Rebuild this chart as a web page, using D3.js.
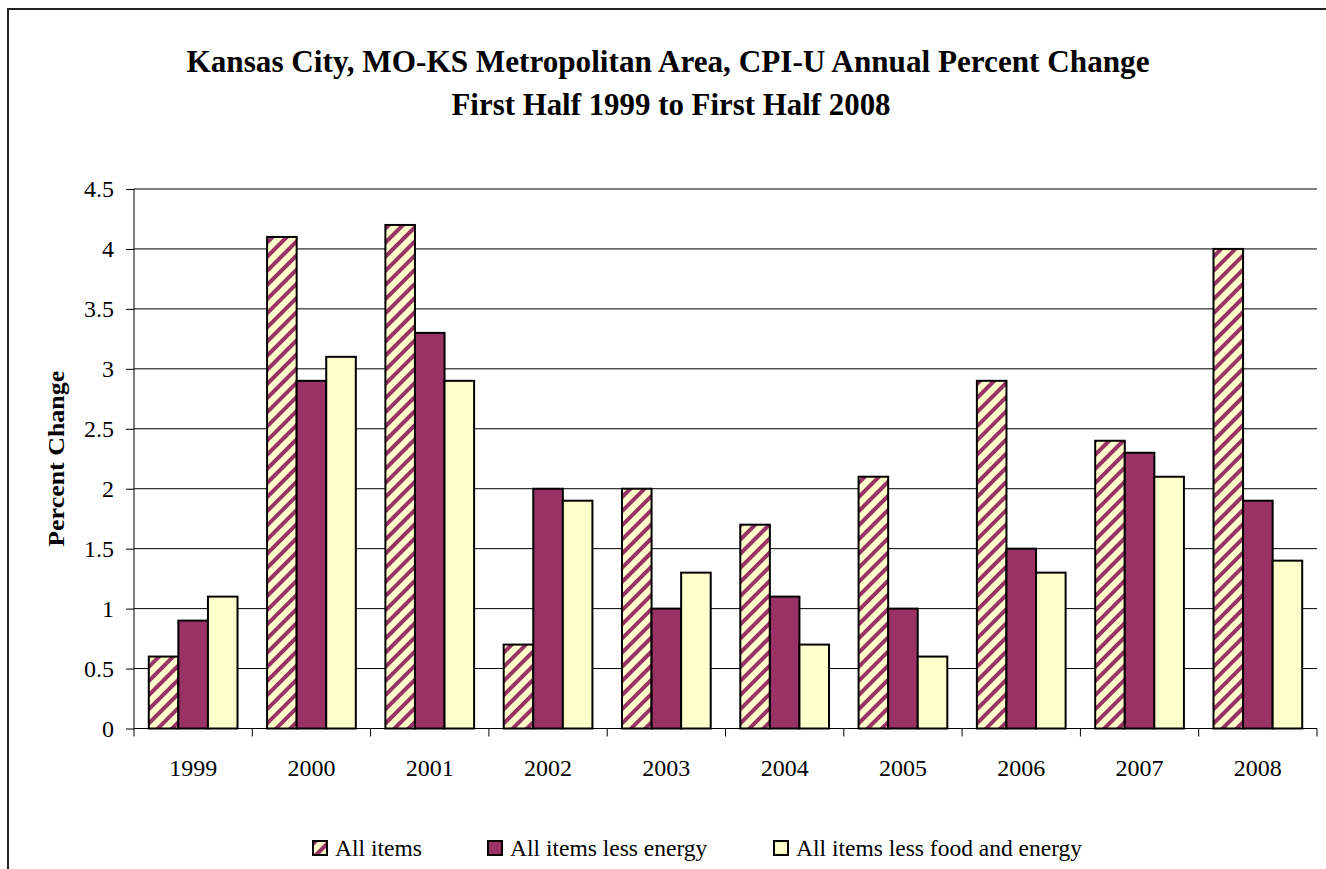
<!DOCTYPE html>
<html>
<head>
<meta charset="utf-8">
<script src="https://cdn.jsdelivr.net/npm/d3@7"></script>
<style>
  body { margin: 0; background: #fff; }
  svg { display: block; }
  svg text { font-family: "Liberation Serif", "DejaVu Serif", serif; }
</style>
</head>
<body>
<div id="chart"></div>
<script>
// data
var years = ['1999', '2000', '2001', '2002', '2003', '2004', '2005', '2006', '2007', '2008'];
var seriesNames = ['All items', 'All items less energy', 'All items less food and energy'];
var allItems = [0.6, 4.1, 4.2, 0.7, 2.0, 1.7, 2.1, 2.9, 2.4, 4.0];
var lessEnergy = [0.9, 2.9, 3.3, 2.0, 1.0, 1.1, 1.0, 1.5, 2.3, 1.9];
var lessFoodEnergy = [1.1, 3.1, 2.9, 1.9, 1.3, 0.7, 0.6, 1.3, 2.1, 1.4];
var yTicks = [0, 0.5, 1, 1.5, 2, 2.5, 3, 3.5, 4, 4.5];

var W = 1326, H = 869;
var plot = {left: 134, right: 1317, top: 189, bottom: 728.5};
var purple = '#993366', cream = '#ffffcc';

var svg = d3.select('#chart').append('svg')
    .attr('width', W).attr('height', H);

// hatch pattern for "All items"
var defs = svg.append('defs');
var pat = defs.append('pattern')
    .attr('id', 'hatch')
    .attr('patternUnits', 'userSpaceOnUse')
    .attr('width', 10).attr('height', 10)
    .attr('patternTransform', 'rotate(45)');
pat.append('rect').attr('width', 10).attr('height', 10).attr('fill', cream);
pat.append('rect').attr('x', 0).attr('width', 4).attr('height', 10).attr('fill', purple);

var fills = ['url(#hatch)', purple, cream];
var series = [allItems, lessEnergy, lessFoodEnergy];

// outer frame (runs off the right and bottom edge)
svg.append('rect')
    .attr('x', 8).attr('y', 9)
    .attr('width', 1340).attr('height', 900)
    .attr('fill', 'none').attr('stroke', '#222').attr('stroke-width', 2);

// title
svg.append('text')
    .attr('x', 668).attr('y', 72)
    .attr('text-anchor', 'middle')
    .attr('font-weight', 'bold').attr('font-size', 31)
    .attr('textLength', 963).attr('lengthAdjust', 'spacingAndGlyphs')
    .text('Kansas City, MO-KS Metropolitan Area, CPI-U Annual Percent Change');
svg.append('text')
    .attr('x', 671).attr('y', 115)
    .attr('text-anchor', 'middle')
    .attr('font-weight', 'bold').attr('font-size', 31)
    .attr('textLength', 439).attr('lengthAdjust', 'spacingAndGlyphs')
    .text('First Half 1999 to First Half 2008');

var x = d3.scaleBand().domain(years).range([plot.left, plot.right]).paddingInner(0).paddingOuter(0);
var y = d3.scaleLinear().domain([0, 4.5]).range([plot.bottom, plot.top]);
var bw = x.bandwidth() / 4;
var xs = d3.scaleBand().domain(d3.range(3)).range([bw / 2, x.bandwidth() - bw / 2]);

// gridlines
svg.append('g').selectAll('line')
    .data(yTicks.slice(1))
    .join('line')
    .attr('x1', plot.left).attr('x2', plot.right)
    .attr('y1', d => y(d)).attr('y2', d => y(d))
    .attr('stroke', '#000').attr('stroke-width', 1);

// bars
var groups = svg.append('g').selectAll('g')
    .data(years)
    .join('g')
    .attr('transform', d => 'translate(' + x(d) + ',0)');
groups.selectAll('rect')
    .data((d, i) => series.map((s, k) => ({k: k, v: s[i]})))
    .join('rect')
    .attr('x', d => xs(d.k))
    .attr('width', xs.bandwidth())
    .attr('y', d => y(d.v))
    .attr('height', d => y(0) - y(d.v))
    .attr('fill', d => fills[d.k])
    .attr('stroke', '#000').attr('stroke-width', 2);

// y axis
var yAxis = svg.append('g')
    .attr('transform', 'translate(' + plot.left + ',0)')
    .call(d3.axisLeft(y).tickValues(yTicks).tickSize(8).tickPadding(12).tickFormat(d3.format('')));
yAxis.select('.domain').attr('stroke', '#000').attr('d', 'M0,' + plot.top + 'V' + plot.bottom);
yAxis.selectAll('text').attr('font-size', 24).attr('fill', '#000');

// x axis
var xAxis = svg.append('g')
    .attr('transform', 'translate(0,' + plot.bottom + ')')
    .call(d3.axisBottom(x).tickSize(0).tickPadding(30));
xAxis.select('.domain').attr('stroke', '#000').attr('d', 'M' + plot.left + ',0H' + plot.right);
xAxis.selectAll('text').attr('font-size', 24).attr('fill', '#000');
xAxis.selectAll('.sep')
    .data(d3.range(years.length + 1))
    .join('line')
    .attr('class', 'sep')
    .attr('x1', i => plot.left + i * x.step()).attr('x2', i => plot.left + i * x.step())
    .attr('y1', 0).attr('y2', 8)
    .attr('stroke', '#000');

// y label
svg.append('text')
    .attr('transform', 'translate(64,' + ((plot.top + plot.bottom) / 2) + ') rotate(-90)')
    .attr('text-anchor', 'middle')
    .attr('font-weight', 'bold')
    .attr('font-size', 23)
    .attr('textLength', 176).attr('lengthAdjust', 'spacingAndGlyphs')
    .text('Percent Change');

// legend
var legendX = [313, 488, 774];
var legend = svg.append('g').selectAll('g')
    .data(seriesNames)
    .join('g')
    .attr('transform', (d, i) => 'translate(' + legendX[i] + ',841)');
legend.append('rect')
    .attr('width', 14).attr('height', 14)
    .attr('fill', (d, i) => fills[i])
    .attr('stroke', '#000').attr('stroke-width', 2);
legend.append('text')
    .attr('x', 22).attr('y', 15)
    .attr('font-size', 23.5)
    .text(d => d);
</script>
</body>
</html>
